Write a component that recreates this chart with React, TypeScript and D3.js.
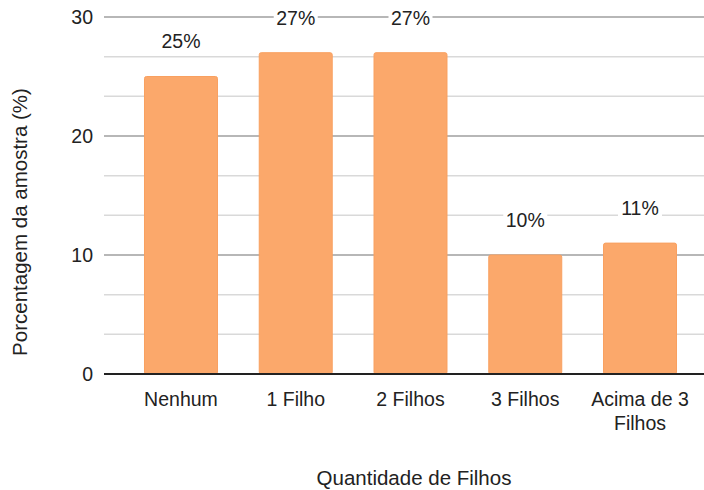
import React from "react";
import * as d3 from "d3";

const categories: string[][] = [["Nenhum"], ["1 Filho"], ["2 Filhos"], ["3 Filhos"], ["Acima de 3", "Filhos"]];
const values: number[] = [25, 27, 27, 10, 11];
const majorTicks: number[] = [0, 10, 20, 30];
const minorTicks: number[] = [10 / 3, 20 / 3, 40 / 3, 50 / 3, 70 / 3, 80 / 3];

const W = 704;
const H = 490;
const FONT = "'Liberation Sans', Arial, sans-serif";
const FS = 19.5;

export default function App() {
  const x = d3
    .scaleBand<number>()
    .domain(values.map((_, i) => i))
    .range([123.6, 697.4])
    .paddingInner(0.364)
    .paddingOuter(0.182);
  const y = d3.scaleLinear().domain([0, 30]).range([374, 17]);
  const left = 104;

  return (
    <svg
      width={W}
      height={H}
      style={{ position: "absolute", left: 0, top: 0, background: "#fff" }}
      fontFamily={FONT}
    >
      {minorTicks.map((t) => (
        <line key={"m" + t} x1={left} x2={W} y1={y(t)} y2={y(t)} stroke="#d9d9d9" strokeWidth={1.5} />
      ))}
      {majorTicks.filter((t) => t > 0).map((t) => (
        <line key={"g" + t} x1={left} x2={W} y1={y(t)} y2={y(t)} stroke="#b7b7b7" strokeWidth={2} />
      ))}
      {majorTicks.map((t) => (
        <text key={"t" + t} x={93} y={y(t)} dy="0.35em" textAnchor="end" fontSize={FS} fill="#222">
          {t}
        </text>
      ))}
      {values.map((v, i) => (
        <rect
          key={"b" + i}
          x={x(i)}
          y={y(v)}
          width={x.bandwidth()}
          height={y(0) - y(v)}
          rx={2}
          fill="#fba86b"
          stroke="#f9a060"
          strokeWidth={1}
        />
      ))}
      <line x1={left} x2={W} y1={y(0)} y2={y(0)} stroke="#222" strokeWidth={2} />
      {values.map((v, i) => {
        const cx = (x(i) as number) + x.bandwidth() / 2;
        const cy = y(v) - 35;
        const label = `${v}%`;
        return (
          <g key={"l" + i}>
            <rect x={cx - 22} y={cy - 11} width={44} height={22} fill="#fff" />
            <text x={cx} y={cy} dy="0.35em" textAnchor="middle" fontSize={FS} fill="#222">
              {label}
            </text>
          </g>
        );
      })}
      {categories.map((lines, i) => {
        const cx = (x(i) as number) + x.bandwidth() / 2;
        return (
          <text key={"c" + i} x={cx} y={399} textAnchor="middle" fontSize={FS} fill="#222">
            {lines.map((ln, j) => (
              <tspan key={j} x={cx} y={399 + j * 24.5} dy="0.35em">
                {ln}
              </tspan>
            ))}
          </text>
        );
      })}
      <text x={414} y={478} dy="0.35em" textAnchor="middle" fontSize={20.5} fill="#222">
        Quantidade de Filhos
      </text>
      <text
        transform={`translate(20,222) rotate(-90)`}
        dy="0.35em"
        textAnchor="middle"
        fontSize={20.5}
        fill="#222"
      >
        Porcentagem da amostra (%)
      </text>
    </svg>
  );
}
